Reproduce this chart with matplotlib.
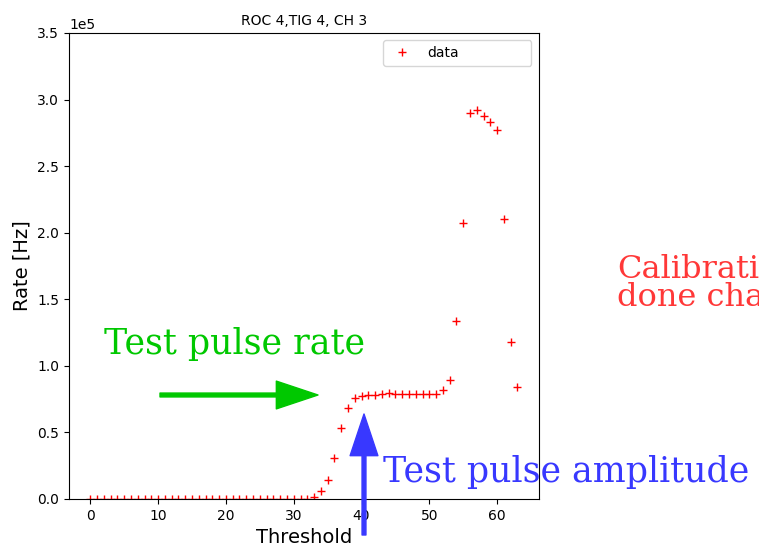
#!/usr/bin/env python3
''' Threshold scan of one channel, with the slide annotations
'''

import matplotlib
matplotlib.use('Agg')
from matplotlib import pyplot

#
# data
#

threshold = list(range(64))

# rate in units of 1e5 Hz
rate_1e5 = [0.0] * 33 + [
    0.015, 0.06, 0.14, 0.31, 0.535, 0.68, 0.755,          # 33-39
    0.775, 0.78, 0.78, 0.785, 0.795, 0.785, 0.785,        # 40-46
    0.785, 0.785, 0.785, 0.785, 0.79, 0.82, 0.89,         # 47-53
    1.34, 2.07, 2.90, 2.92, 2.88, 2.83, 2.77,             # 54-60
    2.10, 1.18, 0.84,                                     # 61-63
]
rate = [r * 1e5 for r in rate_1e5]

title = 'ROC 4,TIG 4, CH 3'
note_rate = 'Test pulse rate'
note_ampl = 'Test pulse amplitude'
note_calib = 'Calibration\ndone channel'

#
# plot
#

fig = pyplot.figure(figsize=(7.59, 5.46), dpi=100)
ax = fig.add_axes([0.0909, 0.0861, 0.619, 0.8535])

ax.plot(threshold, rate, ls='', marker='+', color='r', label='data')
ax.set_ylim(0, 3.5e5)
ax.ticklabel_format(axis='y', style='sci', scilimits=(0, 0))
ax.set_title(title, fontsize=10)
ax.set_xlabel('Threshold', fontsize=14)
ax.set_ylabel('Rate [Hz]', fontsize=14)

ax.legend(loc='upper left', bbox_to_anchor=(0.668, 0.0, 0.316, 0.984),
          mode='expand', borderaxespad=0, fontsize=10)

# slide annotations, placed in figure pixels
serif = 'DejaVu Serif'
green = '#00c800'
blue = '#3838ff'
red = '#ff3838'

fig.text(104, 192, note_rate, transform=None, family=serif,
         fontsize=25, color=green, va='baseline')
fig.text(383, 64, note_ampl, transform=None, family=serif,
         fontsize=25, color=blue, va='baseline')
fig.text(617, 240, note_calib, transform=None, family=serif,
         fontsize=23, color=red, va='baseline', linespacing=0.88)

arrow = 'simple,head_length=1.5,head_width=1.0,tail_width=0.14'
ax.annotate('', xy=(318, 151), xytext=(160, 151),
            xycoords='figure pixels', textcoords='figure pixels',
            arrowprops=dict(arrowstyle=arrow, mutation_scale=20,
                            color=green, shrinkA=0, shrinkB=0),
            annotation_clip=False)
ax.annotate('', xy=(364, 132), xytext=(364, 11),
            xycoords='figure pixels', textcoords='figure pixels',
            arrowprops=dict(arrowstyle=arrow, mutation_scale=20,
                            color=blue, shrinkA=0, shrinkB=0),
            annotation_clip=False)

fig.savefig('out.png', dpi=100)
